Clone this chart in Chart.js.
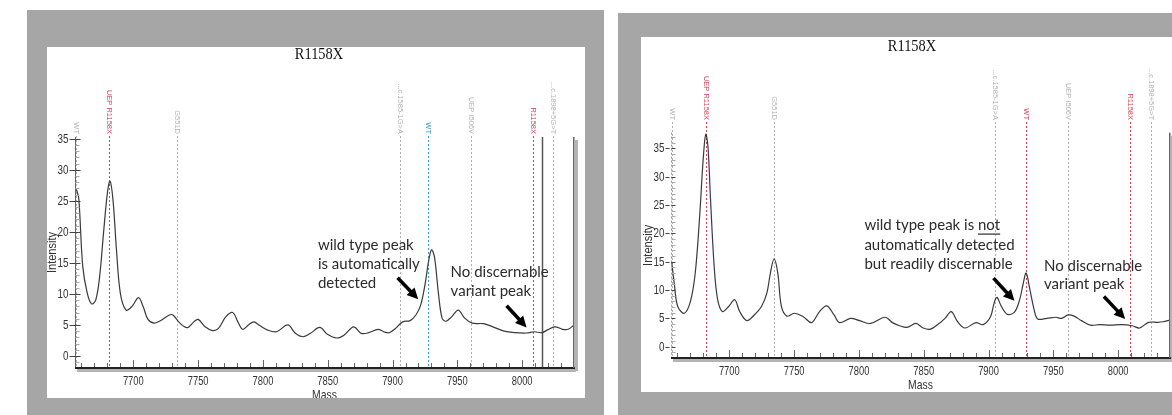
<!DOCTYPE html>
<html>
<head>
<meta charset="utf-8">
<script src="https://cdn.jsdelivr.net/npm/chart.js@4.4.1/dist/chart.umd.min.js"></script>
<style>
  body { margin: 0; background: #fff; width: 1172px; height: 415px; overflow: hidden; position: relative; }
  .frame { position: absolute; background: #a6a6a6; }
  .box { position: absolute; background: #fff; }
  canvas { display: block; }
</style>
</head>
<body>
<div class="frame" style="left:27px;top:10px;width:577px;height:405px"></div>
<div class="box" style="left:47px;top:47px;width:538px;height:351px"><canvas id="left" width="538" height="351"></canvas></div>
<div class="frame" style="left:618px;top:13px;width:554px;height:402px"></div>
<div class="box" style="left:641px;top:37px;width:531px;height:355px"><canvas id="right" width="531" height="355"></canvas></div>

<script>
// spectrum traces (mass, intensity)
const leftMass = [7655, 7656.5, 7658, 7661, 7664.5, 7667.8, 7671, 7674, 7677, 7680, 7682, 7684.3, 7687, 7690, 7694.4, 7699,
  7704, 7707.5, 7711.3, 7716, 7720.5, 7727.8, 7730.6, 7735, 7739.4, 7742.3, 7746.7, 7750, 7755.4, 7761, 7765.5, 7771.3,
  7776.6, 7780.7, 7784.4, 7788.8, 7793, 7797.5, 7803.3, 7810.5, 7819.2, 7825, 7830.9, 7836.6, 7843.9, 7849.7, 7857,
  7862.8, 7870, 7875.8, 7881.6, 7888.9, 7893.3, 7897.6, 7902, 7907.8, 7913.6, 7918, 7921.7, 7925.2, 7928, 7930.1,
  7932.4, 7935.4, 7938.2, 7941.1, 7945.5, 7950.7, 7955.6, 7961.5, 7970.1, 7977.4, 7986.1, 7994.8, 8003.5, 8009.3,
  8015.2, 8019.5, 8025.3, 8031.2, 8035.5, 8040];
const leftIntensity = [27.0, 26.6, 25.2, 14.4, 10.1, 8.4, 9.0, 12.8, 19.8, 26.3, 28.2, 25.2, 17.1, 10.1, 7.4, 8.0,
  9.4, 8.0, 5.9, 5.3, 5.65, 6.6, 6.6, 5.5, 4.7, 4.6, 5.5, 5.9, 4.7, 4.1, 4.4, 6.3,
  7.0, 5.5, 4.3, 5.0, 5.5, 4.9, 4.2, 3.9, 5.0, 3.65, 3.1, 3.65, 4.6, 3.5, 2.9,
  3.4, 4.7, 3.65, 3.75, 4.3, 3.9, 3.75, 4.4, 5.5, 5.7, 6.6, 8.2, 11.7, 15.5, 17.1,
  15.9, 10.1, 6.1, 5.6, 6.3, 7.4, 6.1, 5.3, 5.2, 4.7, 4.0, 3.75, 3.7, 3.9,
  3.75, 4.2, 4.7, 4.3, 4.3, 5.0];

const rightMass = [7655.5, 7657.5, 7660.2, 7665.3, 7670, 7673.7, 7677.1, 7679.8, 7681.8, 7683.5, 7685.5, 7688.3, 7691,
  7694.7, 7699.5, 7704.2, 7708, 7713.5, 7719.2, 7724.8, 7728.9, 7731.7, 7734.5, 7737.4, 7740.2, 7744.4, 7750, 7757,
  7763.5, 7769.6, 7775.2, 7780.8, 7785, 7793.5, 7800.5, 7808.9, 7820.2, 7825.8, 7831.4, 7836.9, 7844, 7849.6, 7855.2,
  7860.8, 7866.4, 7871.2, 7876.2, 7881.8, 7890.2, 7895.8, 7901.5, 7904.3, 7906.5, 7909.9, 7914.5, 7920, 7924, 7926.8,
  7929, 7931.8, 7935.2, 7937.9, 7945, 7952, 7956.2, 7961.5, 7966, 7971.6, 7978.6, 7985.6, 7994, 8002.5, 8010.9,
  8016.5, 8023.5, 8030.5, 8034.6, 8040];
const rightIntensity = [15.0, 11.2, 7.1, 5.9, 8.0, 13.0, 23.0, 33.0, 37.5, 35.4, 26.0, 14.2, 8.3,
  6.2, 7.1, 8.3, 6.2, 4.6, 5.6, 7.1, 9.4, 13.0, 15.5, 13.0, 7.1, 5.4, 5.9, 5.3,
  4.25, 6.2, 7.2, 5.6, 4.25, 5.0, 4.6, 4.1, 5.2, 4.25, 3.7, 3.4, 4.1, 3.3, 3.1,
  3.9, 5.0, 6.2, 4.4, 3.3, 4.25, 3.9, 5.3, 7.7, 8.7, 7.1, 5.7, 6.1, 8.3, 11.2,
  13.0, 10.2, 6.5, 4.9, 5.0, 5.2, 5.0, 5.6, 5.4, 4.6, 3.8, 3.9, 3.8, 3.9, 3.7,
  3.3, 4.3, 4.3, 4.4, 4.7];

// expected-mass markers
const markerLabels = ['WT', 'UEP R1158X', 'G551D', '...c.1585-1G>A', 'WT', 'UEP I506V', 'R1158X', '...c.1898+5G>T'];
const leftMarkerMass = [7656, 7681.5, 7734, 7905.5, 7927.5, 7960.5, 8008, 8024];
const rightMarkerMass = [7656, 7682, 7734.5, 7905, 7929, 7961.5, 8009, 8025];

const xTickLabels = [7700, 7750, 7800, 7850, 7900, 7950, 8000];
const yTickLabels = [0, 5, 10, 15, 20, 25, 30, 35];
const chartTitle = 'R1158X';

const RED = 'rgba(196,50,70,0.9)', GREY = 'rgba(170,170,170,0.9)', BLUE = 'rgba(50,150,200,0.95)';
const leftMarkerColors = [GREY, RED, GREY, GREY, BLUE, GREY, RED, GREY];
const rightMarkerColors = [GREY, RED, GREY, GREY, RED, GREY, RED, GREY];

function squeeze(ctx, txt, x, y, sx) {
  ctx.save();
  ctx.translate(x, y);
  ctx.scale(sx, 1);
  ctx.fillText(txt, 0, 0);
  ctx.restore();
}

const spectrumDecor = {
  id: 'spectrumDecor',
  beforeDatasetsDraw(chart, args, o) {
    const { ctx, chartArea: a, scales: { x } } = chart;
    ctx.save();
    o.markers.forEach((m, i) => {
      const px = Math.round(x.getPixelForValue(m)) + 0.5;
      ctx.strokeStyle = o.markerColors[i];
      ctx.lineWidth = 1;
      ctx.setLineDash([2, 2]);
      ctx.beginPath(); ctx.moveTo(px, a.top - 1); ctx.lineTo(px, a.bottom); ctx.stroke();
      ctx.setLineDash([]);
      ctx.save();
      ctx.translate(px, a.top - 3);
      ctx.rotate(Math.PI / 2);
      ctx.fillStyle = o.markerColors[i];
      ctx.font = '7.5px "Liberation Sans"';
      ctx.textAlign = 'right';
      ctx.textBaseline = 'middle';
      ctx.fillText(markerLabels[i], 0, 0);
      ctx.restore();
    });
    if (o.cursor) {
      const cx = Math.round(x.getPixelForValue(o.cursor)) + 0.5;
      ctx.strokeStyle = '#555'; ctx.lineWidth = 1.5;
      ctx.beginPath(); ctx.moveTo(cx, a.top); ctx.lineTo(cx, a.bottom); ctx.stroke();
    }
    ctx.restore();
  },
  afterDraw(chart, args, o) {
    const { ctx, chartArea: a, scales: { x, y } } = chart;
    ctx.save();
    // title
    ctx.fillStyle = '#111';
    ctx.font = '16px "Liberation Serif"';
    ctx.textAlign = 'center'; ctx.textBaseline = 'middle';
    squeeze(ctx, chartTitle, o.titleX, o.titleY, 0.9);

    // y axis
    const ax = Math.round(a.left) + 0.5;
    const yTop = y.getPixelForValue(o.yAxisTop);
    ctx.strokeStyle = o.yAxisColor; ctx.lineWidth = 1;
    if (o.yDashed) ctx.setLineDash([2, 2]);
    ctx.beginPath(); ctx.moveTo(ax, yTop); ctx.lineTo(ax, a.bottom); ctx.stroke();
    ctx.setLineDash([]);
    for (let v = -1; v <= o.yAxisTop; v++) {
      if (v % 5 === 0) continue;
      const py = Math.round(y.getPixelForValue(v)) + 0.5;
      ctx.strokeStyle = '#aaa';
      ctx.beginPath(); ctx.moveTo(ax, py); ctx.lineTo(ax + 4, py); ctx.stroke();
    }
    ctx.fillStyle = '#333';
    ctx.font = '13px "Liberation Sans"';
    ctx.textAlign = 'right'; ctx.textBaseline = 'middle';
    yTickLabels.forEach(v => {
      const py = Math.round(y.getPixelForValue(v)) + 0.5;
      ctx.strokeStyle = '#444';
      if (o.yDashed) ctx.setLineDash([4, 2]);
      ctx.beginPath(); ctx.moveTo(ax - 6, py); ctx.lineTo(ax + 5, py); ctx.stroke();
      ctx.setLineDash([]);
      squeeze(ctx, String(v), ax - 7, py, 0.76);
    });
    ctx.save();
    ctx.translate(a.left - 23, (yTop + a.bottom) / 2);
    ctx.rotate(-Math.PI / 2);
    ctx.textAlign = 'center';
    squeeze(ctx, 'Intensity', 0, 0, 0.85);
    ctx.restore();

    // x axis with shadow
    const by = a.bottom;
    ctx.fillStyle = '#b4b4b4';
    ctx.fillRect(a.left + 2, by + 1, a.right - a.left, 3);
    ctx.fillRect(a.right + 1, yTop + 3, 3, by - yTop);
    ctx.fillStyle = '#222';
    ctx.fillRect(a.left, by - 1, a.right - a.left + 1, 2);
    ctx.fillStyle = '#666';
    ctx.fillRect(a.right - 1, yTop, 1.5, by - yTop);
    ctx.strokeStyle = '#666'; ctx.lineWidth = 1;
    for (let v = 7660; v < 8040; v += 10) {
      const px = Math.round(x.getPixelForValue(v)) + 0.5;
      const major = v % 50 === 0;
      ctx.beginPath(); ctx.moveTo(px, by - 1); ctx.lineTo(px, by - (major ? 8 : 5)); ctx.stroke();
    }
    ctx.fillStyle = '#333';
    ctx.textAlign = 'center'; ctx.textBaseline = 'middle';
    xTickLabels.forEach(v => squeeze(ctx, String(v), x.getPixelForValue(v), by + 13, 0.72));
    squeeze(ctx, 'Mass', (a.left + a.right) / 2, by + 27, 0.8);

    // callouts
    ctx.fillStyle = '#2b2b2b';
    ctx.font = '15px Lato';
    ctx.textAlign = 'left';
    o.notes.forEach(n => {
      const px = x.getPixelForValue(n.mass);
      const py0 = y.getPixelForValue(n.at);
      n.lines.forEach((t, i) => {
        const py = py0 + i * n.gap;
        ctx.fillText(t, px, py);
        if (n.underline && t.endsWith(n.underline)) {
          const w0 = ctx.measureText(t.slice(0, t.length - n.underline.length)).width;
          const w1 = ctx.measureText(n.underline).width;
          ctx.fillRect(px + w0, py + 8, w1, 1.2);
        }
      });
    });
    ctx.strokeStyle = '#000'; ctx.fillStyle = '#000'; ctx.lineWidth = 3.5;
    o.arrows.forEach(ar => {
      const x0 = x.getPixelForValue(ar.from[0]), y0 = y.getPixelForValue(ar.from[1]);
      const x1 = x.getPixelForValue(ar.to[0]), y1 = y.getPixelForValue(ar.to[1]);
      const ang = Math.atan2(y1 - y0, x1 - x0), head = 11;
      ctx.beginPath();
      ctx.moveTo(x0, y0);
      ctx.lineTo(x1 - (head - 2) * Math.cos(ang), y1 - (head - 2) * Math.sin(ang));
      ctx.stroke();
      ctx.beginPath();
      ctx.moveTo(x1, y1);
      ctx.lineTo(x1 - head * Math.cos(ang) + 5.5 * Math.sin(ang), y1 - head * Math.sin(ang) - 5.5 * Math.cos(ang));
      ctx.lineTo(x1 - head * Math.cos(ang) - 5.5 * Math.sin(ang), y1 - head * Math.sin(ang) + 5.5 * Math.cos(ang));
      ctx.closePath(); ctx.fill();
    });
    ctx.restore();
  }
};

function makeSpectrum(id, mass, intensity, yMin, yMax, padding, decor) {
  const ctx = document.getElementById(id).getContext('2d');
  return new Chart(ctx, {
    type: 'line',
    data: {
      datasets: [{
        data: mass.map((m, i) => ({ x: m, y: intensity[i] })),
        borderColor: '#3a3a3a',
        borderWidth: 1.2,
        pointRadius: 0,
        fill: false,
        tension: 0.35
      }]
    },
    options: {
      responsive: false,
      animation: false,
      devicePixelRatio: 1,
      layout: { padding: padding },
      plugins: { legend: { display: false }, tooltip: { enabled: false }, spectrumDecor: decor },
      scales: {
        x: { type: 'linear', min: 7655, max: 8040, display: false },
        y: { type: 'linear', min: yMin, max: yMax, display: false }
      }
    },
    plugins: [spectrumDecor]
  });
}

document.addEventListener('DOMContentLoaded', function () {
  makeSpectrum('left', leftMass, leftIntensity, -1.94, 35.3,
    { left: 28, right: 11, top: 90, bottom: 30 },
    {
      markers: leftMarkerMass, markerColors: leftMarkerColors, cursor: 8015,
      titleX: 272, titleY: 8, yAxisTop: 35.3, yAxisColor: '#666', yDashed: false,
      notes: [
        { lines: ['wild type peak', 'is automatically', 'detected'], mass: 7842.4, at: 17.8, gap: 18.6 },
        { lines: ['No discernable', 'variant peak'], mass: 7944.8, at: 13.5, gap: 19.4 }
      ],
      arrows: [
        { from: [7903.9, 12.6], to: [7919.8, 9.15] },
        { from: [7988, 8.1], to: [8003.4, 4.6] }
      ]
    });

  makeSpectrum('right', rightMass, rightIntensity, -2, 39.5,
    { left: 30, right: 2, top: 86, bottom: 34 },
    {
      markers: rightMarkerMass, markerColors: rightMarkerColors, cursor: null,
      titleX: 271, titleY: 10, yAxisTop: 37.8, yAxisColor: '#999', yDashed: true,
      notes: [
        { lines: ['wild type peak is not', 'automatically detected', 'but readily discernable'], mass: 7804.2, at: 21.4, gap: 19.2, underline: 'not' },
        { lines: ['No discernable', 'variant peak'], mass: 7942.8, at: 14.3, gap: 18.5 }
      ],
      arrows: [
        { from: [7903.8, 12.1], to: [7920, 8.1] },
        { from: [7989, 8.85], to: [8005.4, 4.9] }
      ]
    });
});
</script>
</body>
</html>
